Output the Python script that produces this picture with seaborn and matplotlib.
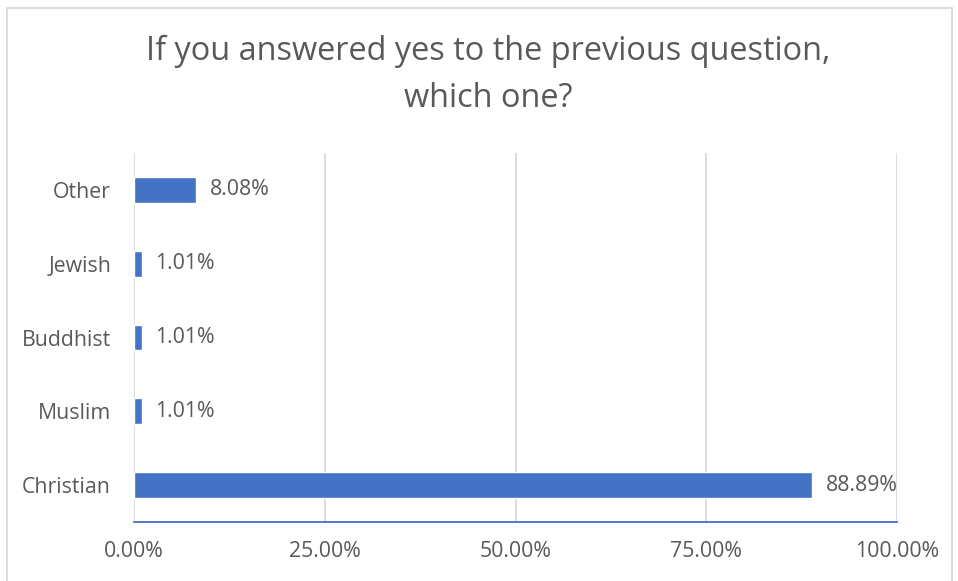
import matplotlib
matplotlib.use("Agg")
import matplotlib.pyplot as plt
import seaborn as sns
import pandas as pd
from matplotlib.patches import Rectangle
from matplotlib.ticker import FuncFormatter

categories = ["Other", "Jewish", "Buddhist", "Muslim", "Christian"]
values = [8.08, 1.01, 1.01, 1.01, 88.89]
xticks = [0, 25, 50, 75, 100]

sns.set_theme(style="white")
plt.rcParams['font.family'] = ['Open Sans', 'DejaVu Sans']

df = pd.DataFrame({"cat": categories, "val": values})
W, H = 958, 581
fig = plt.figure(figsize=(W/100, H/100), dpi=100)
ax = fig.add_axes([134/W, 1-522/H, (897-134)/W, (522-153)/H])

sns.barplot(data=df, x="val", y="cat", orient="h", color="#4472C4",
            width=0.35, saturation=1, ax=ax, zorder=3)

grey = "#595959"
fs = 15.3
ax.set_xlim(0, 100)
ax.set_xticks(xticks)
ax.xaxis.set_major_formatter(FuncFormatter(lambda v, p: f"{v:.2f}%"))
ax.grid(axis="x", color="#D9D9D9", linewidth=1.3, zorder=0)
ax.set_axisbelow(True)
for s in ["top", "right", "left"]:
    ax.spines[s].set_visible(False)
ax.spines["bottom"].set_color("#4472C4")
ax.spines["bottom"].set_linewidth(1.3)
ax.tick_params(axis="both", length=0, colors=grey, labelsize=fs)
ax.tick_params(axis="x", pad=13.5)
ax.tick_params(axis="y", pad=16.5)
ax.set_xlabel("")
ax.set_ylabel("")

for i, v in enumerate(values):
    ax.text(v + 1.8, i, f"{v:.2f}%", va="center", ha="left", color=grey, fontsize=fs)

fig.text(488/W, 1-75/H, "If you answered yes to the previous question,\nwhich one?",
         ha="center", va="center", fontsize=23.4, color=grey, linespacing=1.55)

fig.patches.append(Rectangle((7/W, -0.05), (952-7)/W, 1.05-8/H, transform=fig.transFigure,
                             fill=False, edgecolor="#D9D9D9", linewidth=1.3))

fig.savefig("out.png", dpi=100)
